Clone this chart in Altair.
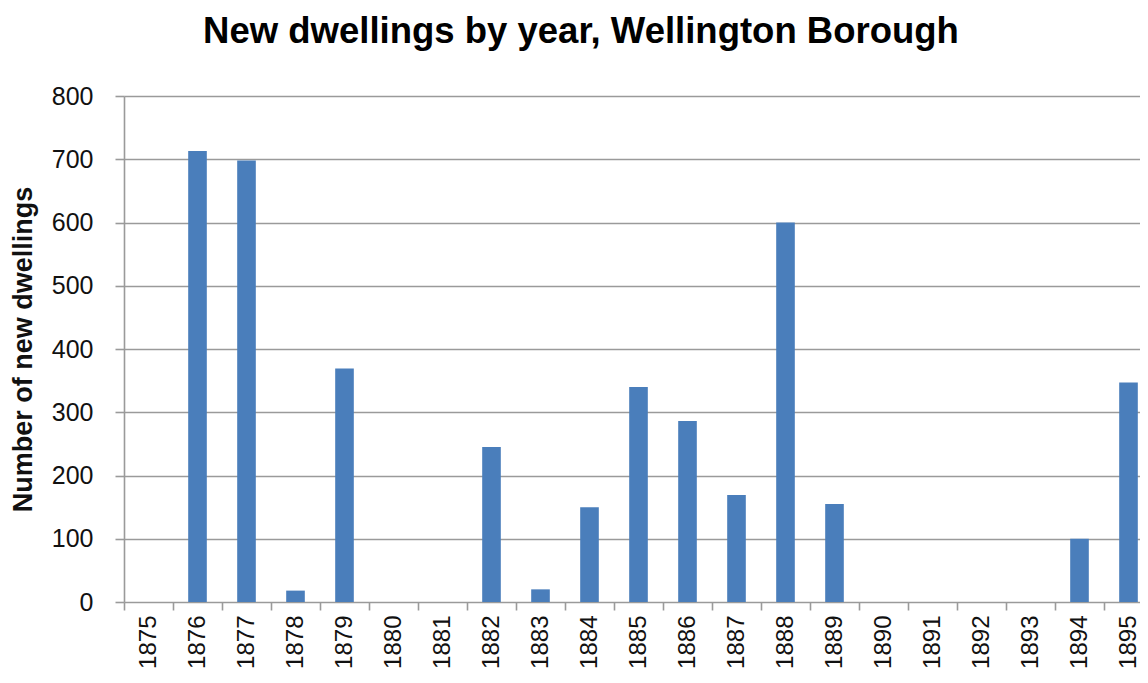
import altair as alt
import pandas as pd

years = [str(y) for y in range(1875, 1896)]
dwellings = [0, 713, 698, 18, 369, 0, 0, 245, 20, 150, 340, 286, 169, 600, 155,
             0, 0, 0, 0, 100, 347]
y_ticks = [0, 100, 200, 300, 400, 500, 600, 700, 800]

df = pd.DataFrame({"year": years, "count": dwellings})

grid_col = "#9a9a9a"
plot_range = 1029
step = plot_range / len(years)

chart = alt.Chart(df).mark_bar(color="#4a7ebb").encode(
    x=alt.X("year:N", sort=years, title=None,
            scale=alt.Scale(range=[0, plot_range], paddingInner=0.62, paddingOuter=0.31),
            axis=alt.Axis(labelAngle=-90, labelFont="Liberation Sans",
                          labelFontSize=24, labelColor="#111", labelPadding=5,
                          tickOffset=-step / 2, labelOffset=step / 2,
                          tickSize=8, tickColor=grid_col, tickWidth=1.6,
                          domain=False, labelBaseline="middle",
                          labelAlign="right")),
    y=alt.Y("count:Q", title="Number of new dwellings",
            scale=alt.Scale(domain=[0, 800], nice=False),
            axis=alt.Axis(values=y_ticks, labelFont="Liberation Sans", labelFontSize=25,
                          labelColor="#111", labelPadding=22, tickSize=9, tickColor=grid_col,
                          tickWidth=1.6, domainColor=grid_col, domainWidth=1.6,
                          gridColor=grid_col, gridWidth=1.6,
                          titleFont="Liberation Sans", titleFontSize=27, titleFontWeight="bold",
                          titleColor="#111", titlePadding=14)),
).properties(
    width=1016,
    height=506,
    autosize=alt.AutoSizeParams(type="none"),
    padding={"left": 116, "top": 88, "right": 0, "bottom": 66},
    title=alt.TitleParams("New dwellings by year, Wellington Borough",
                          font="Liberation Sans", fontSize=36.5, fontWeight="bold",
                          color="#000", anchor="middle", dx=-51, offset=34),
).configure_view(stroke=None)

chart.save("out.html", embed_options={"renderer": "svg", "actions": False})
